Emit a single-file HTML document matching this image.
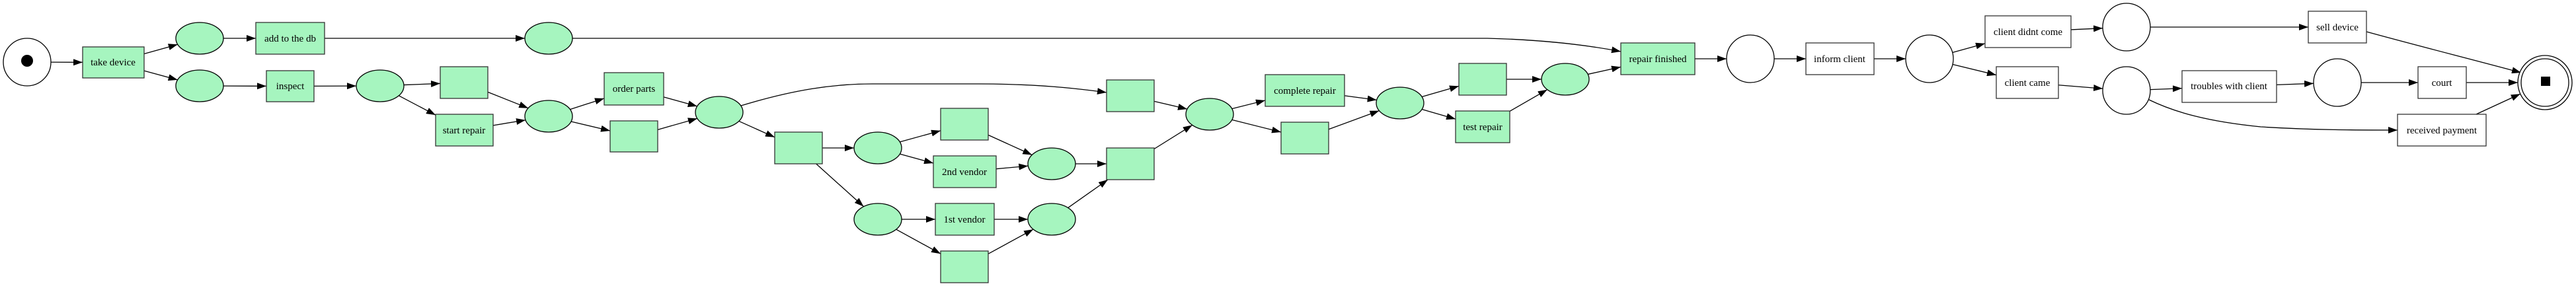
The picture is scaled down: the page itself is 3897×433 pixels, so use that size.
<!DOCTYPE html>
<html><head><meta charset="utf-8"><style>
html,body{margin:0;padding:0;background:#fff;}
svg{display:block}
text{font-family:"Liberation Serif",serif;font-size:15px;fill:#000}
</style></head><body>
<svg id="s" width="3897" height="433" viewBox="0 0 3897 433" xmlns="http://www.w3.org/2000/svg">
<defs><marker id="a" markerUnits="userSpaceOnUse" markerWidth="14" markerHeight="10" refX="14" refY="5" orient="auto"><path d="M0,0 L14,5 L0,10 z" fill="#000"/></marker></defs>
<g id="edges" fill="none" stroke="#000" stroke-width="1.3"></g>
<g id="nodes" stroke="#333" stroke-width="1.3"></g>
<g id="labels" text-anchor="middle">
<text x="171" y="99">take device</text>
<text x="439" y="63">add to the db</text>
<text x="439" y="135">inspect</text>
<text x="702" y="202">start repair</text>
<text x="959" y="139">order parts</text>
<text x="1459" y="265">2nd vendor</text>
<text x="1459" y="337">1st vendor</text>
<text x="1974" y="142">complete repair</text>
<text x="2243" y="197">test repair</text>
<text x="2508" y="94">repair finished</text>
<text x="2783" y="94">inform client</text>
<text x="3068" y="53">client didnt come</text>
<text x="3067" y="130">client came</text>
<text x="3536" y="46">sell device</text>
<text x="3372" y="135">troubles with client</text>
<text x="3694" y="130">court</text>
<text x="3694" y="202">received payment</text>
</g>
<circle cx="41" cy="92" r="9" fill="#000"/>
<rect x="3844" y="116" width="14" height="14" fill="#000"/>
</svg>
<script>
var G='#a6f5bf',W='#fff';
function g(x,y){return {c:1,x:x,y:y,r:36,ry:24,f:G};}
function w(x,y,r){return {c:1,x:x,y:y,r:r||36,ry:r||36,f:W};}
var N={
st:w(41,94),
td:{x:125,y:71,w:93,h:47,f:G},
A:g(302,58),B:g(302,130),
db:{x:387,y:34,w:104,h:48,f:G},ins:{x:403,y:107,w:72,h:47,f:G},
C:g(575,130),D:{x:666,y:101,w:72,h:48,f:G},
sr:{x:659,y:173,w:87,h:48,f:G},top:g(830,58),
E:g(830,176),op:{x:914,y:110,w:90,h:49,f:G},
F:{x:923,y:183,w:72,h:47,f:G},Gp:g(1088,170),
H:{x:1172,y:200,w:72,h:48,f:G},I:g(1328,224),
J:{x:1423,y:164,w:72,h:48,f:G},v2:{x:1412,y:236,w:95,h:48,f:G},
K:g(1591,248),L:g(1328,332),
v1:{x:1415,y:308,w:89,h:48,f:G},M:{x:1423,y:380,w:72,h:48,f:G},
Nn:g(1591,332),O:{x:1674,y:121,w:72,h:48,f:G},
P:{x:1674,y:224,w:72,h:48,f:G},Q:g(1830,173),
cr:{x:1914,y:113,w:120,h:48,f:G},R:{x:1938,y:185,w:72,h:48,f:G},
S:g(2118,156),T:{x:2207,y:96,w:72,h:48,f:G},
tr:{x:2202,y:168,w:82,h:48,f:G},U:g(2368,120),
rf:{x:2452,y:65,w:112,h:48,f:G},V:w(2648,89),
ic:{x:2732,y:65,w:103,h:48,f:W},Wp:w(2919,89),
dc:{x:3003,y:24,w:130,h:48,f:W},cc:{x:3020,y:101,w:94,h:48,f:W},
X:w(3217,41),Y:w(3217,137),
sd:{x:3492,y:17,w:88,h:48,f:W},tw:{x:3301,y:107,w:143,h:48,f:W},
Z:w(3536,125),co:{x:3658,y:101,w:73,h:48,f:W},
rp:{x:3627,y:173,w:134,h:48,f:W},
end:w(3850,125,41)
};
var ns='http://www.w3.org/2000/svg';
function el(t,a,p){var e=document.createElementNS(ns,t);for(var k in a)e.setAttribute(k,a[k]);p.appendChild(e);return e;}
var gn=document.getElementById('nodes'),ge=document.getElementById('edges');
for(var k in N){var n=N[k];
 if(n.c){el('ellipse',{cx:n.x,cy:n.y,rx:n.r,ry:n.ry,fill:n.f,stroke:'#000'},gn);}
 else el('rect',{x:n.x,y:n.y,width:n.w,height:n.h,fill:n.f},gn);}
el('circle',{cx:3850,cy:125,r:36,fill:'none',stroke:'#000'},gn);
function ctr(n){return n.c?[n.x,n.y]:[n.x+n.w/2,n.y+n.h/2];}
function clip(n,dx,dy){var L=Math.hypot(dx,dy);dx/=L;dy/=L;
 if(n.c){var t=1/Math.sqrt(Math.pow(dx/n.r,2)+Math.pow(dy/n.ry,2));return [n.x+dx*t,n.y+dy*t];}
 var c=ctr(n),tx=dx?(n.w/2)/Math.abs(dx):1e9,ty=dy?(n.h/2)/Math.abs(dy):1e9,t2=Math.min(tx,ty);
 return [c[0]+dx*t2,c[1]+dy*t2];}
var E=[['st','td'],['td','A'],['td','B'],['A','db'],['db','top'],['B','ins'],['ins','C'],
['C','D'],['C','sr'],['D','E'],['sr','E'],['E','op'],['E','F'],['op','Gp'],['F','Gp'],
['Gp','H'],['H','I'],['H','L'],['I','J'],['I','v2'],['J','K'],['v2','K'],['L','v1'],['L','M'],
['v1','Nn'],['M','Nn'],['K','P'],['Nn','P'],['O','Q'],['P','Q'],['Q','cr'],['Q','R'],
['cr','S'],['R','S'],['S','T'],['S','tr'],['T','U'],['tr','U'],['U','rf'],['rf','V'],
['V','ic'],['ic','Wp'],['Wp','dc'],['Wp','cc'],['dc','X'],['cc','Y'],['X','sd'],['Y','tw'],['tw','Z'],
['Z','co'],['co','end'],['rp','end']];
E.forEach(function(e){var a=N[e[0]],b=N[e[1]],ca=ctr(a),cb=ctr(b),dx=cb[0]-ca[0],dy=cb[1]-ca[1];
 var p=clip(a,dx,dy),q=clip(b,-dx,-dy);
 el('path',{d:'M'+p[0]+','+p[1]+' L'+q[0]+','+q[1],'marker-end':'url(#a)'},ge);});
[['M1121,160 C1200,136 1260,127 1320,127 L1480,127 C1570,127 1630,134 1674,140'],
 ['M866,58 L2250,58 C2330,60 2400,68 2452,78'],
 ['M3251,151 C3290,170 3340,184 3420,192 C3500,197 3570,197 3627,197'],
 ['M3580,48 C3660,70 3740,90 3814,110']].forEach(function(d){el('path',{d:d[0],'marker-end':'url(#a)'},ge);});
</script>
</body></html>
